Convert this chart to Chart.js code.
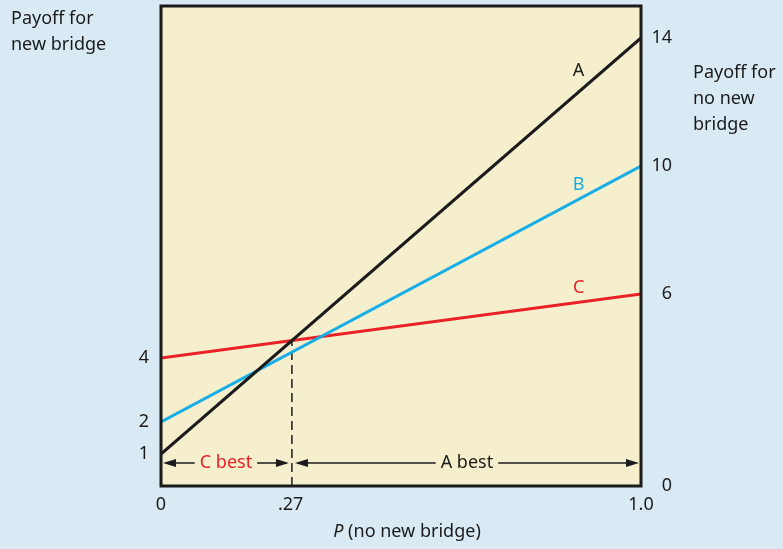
<!DOCTYPE html>
<html>
<head>
<meta charset="utf-8">
<script src="https://cdn.jsdelivr.net/npm/chart.js@4.4.1/dist/chart.umd.min.js"></script>
<style>
  html, body { margin: 0; padding: 0; background: #d9eaf4; }
  #wrap { width: 783px; height: 549px; }
</style>
</head>
<body>
<div id="wrap"><canvas id="payoffChart" width="783" height="549"></canvas></div>
<script>
// payoff lines, value at P = 0 and P = 1
var pValues = [0, 1];
var payoffA = [1, 14];
var payoffB = [2, 10];
var payoffC = [4, 6];

var leftTicks = [1, 2, 4];
var rightTicks = [0, 6, 10, 14];
var xTickValues = [0, 0.27, 1];
var xTickLabels = ['0', '.27', '1.0'];

var FONT = '"Noto Sans", Lato, sans-serif';
var INK = '#1b1b1b';
var RED = '#ea2127';
var BLUE = '#17ade6';

function toPoints(ys) {
    return pValues.map(function (p, i) { return {x: p, y: ys[i]}; });
}

// where A overtakes C
var slopeA = payoffA[1] - payoffA[0], slopeC = payoffC[1] - payoffC[0];
var pStar = (payoffC[0] - payoffA[0]) / (slopeA - slopeC);
var yStar = payoffA[0] + slopeA * pStar;

var seriesLabels = [
    {text: 'A', color: INK, data: payoffA, dy: -21},
    {text: 'B', color: BLUE, data: payoffB, dy: -14},
    {text: 'C', color: RED, data: payoffC, dy: -14}
];

function arrowHead(ctx, x, y, dir) {
    ctx.beginPath();
    ctx.moveTo(x, y);
    ctx.lineTo(x - dir * 13, y - 4);
    ctx.lineTo(x - dir * 13, y + 4);
    ctx.closePath();
    ctx.fill();
}

// double arrow with a label in the middle
function spanArrow(ctx, x1, x2, y, label, color) {
    ctx.font = '18px ' + FONT;
    var w = ctx.measureText(label).width;
    var mid = (x1 + x2) / 2;
    ctx.strokeStyle = INK;
    ctx.fillStyle = INK;
    ctx.lineWidth = 1.5;
    ctx.beginPath();
    ctx.moveTo(x1 + 4, y); ctx.lineTo(mid - w / 2 - 5, y);
    ctx.moveTo(mid + w / 2 + 5, y); ctx.lineTo(x2 - 4, y);
    ctx.stroke();
    arrowHead(ctx, x1, y, -1);
    arrowHead(ctx, x2, y, 1);
    ctx.fillStyle = color;
    ctx.textAlign = 'center';
    ctx.textBaseline = 'middle';
    ctx.fillText(label, mid, y);
}

var decorPlugin = {
    id: 'decor',
    beforeDraw: function (chart) {
        var ctx = chart.ctx, a = chart.chartArea;
        ctx.save();
        ctx.fillStyle = '#d9eaf4';
        ctx.fillRect(0, 0, chart.width, chart.height);
        ctx.fillStyle = '#f5efcd';
        ctx.fillRect(a.left, a.top, a.right - a.left, a.bottom - a.top);
        ctx.restore();
    },
    afterDraw: function (chart) {
        var ctx = chart.ctx, a = chart.chartArea;
        var xs = chart.scales.x, ys = chart.scales.y;
        ctx.save();

        // frame
        ctx.strokeStyle = INK;
        ctx.lineWidth = 3;
        ctx.strokeRect(a.left, a.top, a.right - a.left, a.bottom - a.top);

        // line names
        ctx.font = '18px ' + FONT;
        ctx.textAlign = 'center';
        ctx.textBaseline = 'middle';
        seriesLabels.forEach(function (s) {
            var p = 0.87;
            var v = s.data[0] + (s.data[1] - s.data[0]) * p;
            ctx.fillStyle = s.color;
            ctx.fillText(s.text, xs.getPixelForValue(p), ys.getPixelForValue(v) + s.dy);
        });

        // best regions
        var xStar = xs.getPixelForValue(pStar);
        var yArrow = a.bottom - 23;
        spanArrow(ctx, a.left + 2, xStar - 3, yArrow, 'C best', RED);
        spanArrow(ctx, xStar + 3, a.right - 2, yArrow, 'A best', INK);

        // axis titles
        ctx.fillStyle = INK;
        ctx.textAlign = 'left';
        ctx.textBaseline = 'alphabetic';
        ctx.font = '18px ' + FONT;
        ctx.fillText('Payoff for', 11, 24);
        ctx.fillText('new bridge', 11, 50);
        ctx.fillText('Payoff for', 693, 78);
        ctx.fillText('no new', 693, 104);
        ctx.fillText('bridge', 693, 130);

        ctx.font = 'italic 18px ' + FONT;
        var pw = ctx.measureText('P').width;
        ctx.font = '18px ' + FONT;
        var rest = ' (no new bridge)';
        var rw = ctx.measureText(rest).width;
        var x0 = 407 - (pw + rw) / 2;
        ctx.font = 'italic 18px ' + FONT;
        ctx.fillText('P', x0, 537);
        ctx.font = '18px ' + FONT;
        ctx.fillText(rest, x0 + pw, 537);

        ctx.restore();
    }
};

var tickFont = {family: FONT, size: 18};

function fixedWidth(w) {
    return function (scale) {
        scale.width = w;
        scale.paddingTop = 0;
        scale.paddingBottom = 0;
    };
}

new Chart(document.getElementById('payoffChart'), {
    type: 'line',
    data: {
        datasets: [
            {label: 'A', data: toPoints(payoffA), borderColor: INK, borderWidth: 3, pointRadius: 0},
            {label: 'B', data: toPoints(payoffB), borderColor: BLUE, borderWidth: 3, pointRadius: 0},
            {label: 'C', data: toPoints(payoffC), borderColor: RED, borderWidth: 3, pointRadius: 0},
            {label: 'breakeven', data: [{x: pStar, y: 0}, {x: pStar, y: yStar}],
             borderColor: INK, borderWidth: 1.5, borderDash: [9, 5], pointRadius: 0}
        ]
    },
    options: {
        responsive: false,
        animation: false,
        events: [],
        layout: {padding: {top: 6, left: 0, right: 111, bottom: 0}},
        plugins: {legend: {display: false}, tooltip: {enabled: false}},
        scales: {
            x: {
                type: 'linear', min: 0, max: 1,
                grid: {display: false, drawTicks: false},
                border: {display: false},
                afterBuildTicks: function (scale) {
                    scale.ticks = xTickValues.map(function (v) { return {value: v}; });
                },
                afterFit: function (scale) {
                    scale.height = 63;
                    scale.paddingLeft = 0;
                    scale.paddingRight = 0;
                },
                ticks: {
                    color: INK, font: tickFont, padding: 8, maxRotation: 0, autoSkip: false,
                    callback: function (v, i) { return xTickLabels[i]; }
                }
            },
            y: {
                type: 'linear', position: 'left', min: 0, max: 15,
                grid: {display: false, drawTicks: false},
                border: {display: false},
                afterBuildTicks: function (scale) {
                    scale.ticks = leftTicks.map(function (v) { return {value: v}; });
                },
                afterFit: fixedWidth(161),
                ticks: {color: INK, font: tickFont, padding: 12, autoSkip: false}
            },
            y2: {
                type: 'linear', position: 'right', min: 0, max: 15,
                grid: {display: false, drawTicks: false},
                border: {display: false},
                afterBuildTicks: function (scale) {
                    scale.ticks = rightTicks.map(function (v) { return {value: v}; });
                },
                afterFit: fixedWidth(31),
                ticks: {color: INK, font: tickFont, crossAlign: 'far', autoSkip: false}
            }
        }
    },
    plugins: [decorPlugin]
});
</script>
</body>
</html>
